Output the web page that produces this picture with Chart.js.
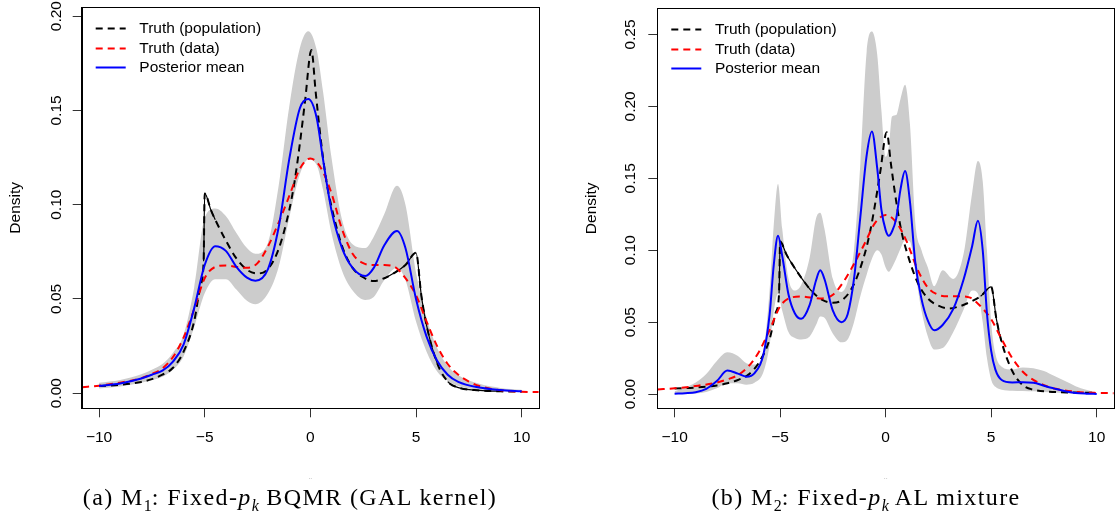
<!DOCTYPE html>
<html>
<head>
<meta charset="utf-8">
<script src="https://cdn.jsdelivr.net/npm/chart.js@4.4.1/dist/chart.umd.min.js"></script>
<style>
  html, body { margin: 0; padding: 0; background: #fff; }
  #wrap { position: relative; width: 1117px; height: 516px; overflow: hidden; }
  canvas { position: absolute; top: 0; }
  .cap { position: absolute; top: 482px; font-family: "Liberation Serif", "DejaVu Serif", serif;
         font-size: 24px; letter-spacing: 1.4px; white-space: nowrap; transform: translateX(-50%); line-height: 30px; }
  .cap sub { font-size: 16px; line-height: 0; letter-spacing: 0; }
</style>
</head>
<body>
<div id="wrap">
  <canvas id="chartA" width="560" height="516" style="left:0;width:560px;height:516px"></canvas>
  <canvas id="chartB" width="557" height="516" style="left:560px;width:557px;height:516px"></canvas>
  <div class="cap" style="left:290px">(a) M<sub>1</sub>: Fixed-<i>p<sub>k</sub></i> BQMR (GAL kernel)</div>
  <div class="cap" style="left:866px">(b) M<sub>2</sub>: Fixed-<i>p<sub>k</sub></i> AL mixture</div>
</div>
<script>
// tick positions
const xTicks = [-10, -5, 0, 5, 10];
const yTicksA = [0, 0.05, 0.10, 0.15, 0.20];
const yTicksB = [0, 0.05, 0.10, 0.15, 0.20, 0.25];

// true densities (same in both panels)
const xTruthPop = [-10, -9, -8, -7.5, -7, -6.5, -6, -5.5, -5.2, -5.05, -5, -4.7, -4.5, -4, -3.5, -3, -2.5, -2, -1.5, -1,
  -0.75, -0.5, -0.25, 0.05, 0.25, 0.5, 0.75, 1, 1.5, 2, 2.5, 3, 3.5, 4, 4.5, 5, 5.25, 5.5, 6, 6.5, 7, 8, 9, 10];
const truthPop = [0.0038, 0.0045, 0.0060, 0.0075, 0.0098, 0.0135, 0.022, 0.038, 0.057, 0.070, 0.106, 0.097, 0.092, 0.081, 0.0715, 0.0655, 0.0635, 0.066, 0.0765, 0.097,
  0.112, 0.132, 0.155, 0.182, 0.160, 0.134, 0.113, 0.099, 0.078, 0.0665, 0.0615, 0.0595, 0.061, 0.064, 0.068, 0.0745, 0.052, 0.036, 0.016, 0.0062, 0.003, 0.0015, 0.001, 0.0008];

const xTruthData = [-10.8, -10, -9, -8, -7.5, -7, -6.5, -6, -5.5, -5, -4.5, -4, -3.5, -3, -2.5, -2, -1.5, -1, -0.5, 0,
  0.5, 1, 1.5, 2, 2.5, 3, 3.5, 4, 4.5, 5, 5.5, 6, 6.5, 7, 7.5, 8, 9, 10, 10.8];
const truthData = [0.0032, 0.0040, 0.0056, 0.0080, 0.0102, 0.0132, 0.0192, 0.0295, 0.0445, 0.0610, 0.0670, 0.0678, 0.0670, 0.0665, 0.0690, 0.0780, 0.0905, 0.1045, 0.1190, 0.1245,
  0.1195, 0.1060, 0.0870, 0.0740, 0.0690, 0.0680, 0.0680, 0.0670, 0.0610, 0.0520, 0.0380, 0.0250, 0.0155, 0.0098, 0.0062, 0.0038, 0.0016, 0.0008, 0.0006];

// panel (a): M1 posterior mean and band
const xA = [-10, -9, -8, -7.5, -7, -6.5, -6, -5.5, -5, -4.5, -4, -3.5, -3, -2.6, -2, -1.5, -1, -0.5, -0.1, 0.3,
  0.6, 1, 1.5, 2, 2.6, 3, 3.5, 4.1, 4.5, 5, 5.5, 6, 6.5, 7, 8, 9, 10];
const meanA = [0.0039, 0.0052, 0.0078, 0.0098, 0.0120, 0.0168, 0.0258, 0.045, 0.068, 0.078, 0.0755, 0.067, 0.0613, 0.0597, 0.066, 0.088, 0.124, 0.151, 0.156, 0.146,
  0.124, 0.097, 0.077, 0.0665, 0.0622, 0.0665, 0.0785, 0.086, 0.077, 0.050, 0.030, 0.0172, 0.0098, 0.0060, 0.0030, 0.0017, 0.0010];
const upperA = [0.0055, 0.0070, 0.0100, 0.0125, 0.0155, 0.0215, 0.031, 0.056, 0.093, 0.098, 0.094, 0.085, 0.077, 0.074, 0.080, 0.110, 0.152, 0.183, 0.192, 0.182,
  0.160, 0.125, 0.092, 0.079, 0.077, 0.083, 0.095, 0.110, 0.100, 0.064, 0.040, 0.024, 0.0145, 0.0095, 0.0050, 0.0028, 0.0018];
const lowerA = [0.0025, 0.0035, 0.0055, 0.0070, 0.0088, 0.0125, 0.0195, 0.035, 0.053, 0.0605, 0.0605, 0.055, 0.049, 0.0472, 0.053, 0.067, 0.093, 0.116, 0.124, 0.121,
  0.108, 0.085, 0.065, 0.0545, 0.0495, 0.051, 0.060, 0.0665, 0.060, 0.038, 0.022, 0.0115, 0.0065, 0.0038, 0.0018, 0.0009, 0.0006];

// panel (b): M2 posterior mean and band
const xB = [-10, -9.5, -9, -8.5, -8, -7.5, -7, -6.6, -6.2, -5.8, -5.5, -5.3, -5.1, -4.9, -4.6, -4.3, -4, -3.6, -3.3, -3.1,
  -2.9, -2.5, -2.1, -1.8, -1.5, -1.2, -0.9, -0.65, -0.4, -0.2, 0, 0.15, 0.3, 0.5, 0.7, 0.92, 1.15, 1.4, 1.7, 2,
  2.3, 2.7, 3.2, 3.7, 4.1, 4.37, 4.6, 4.8, 5, 5.2, 5.5, 6, 6.5, 7, 7.5, 8, 8.5, 9, 9.5, 10];
const meanB = [0.0002, 0.0006, 0.0013, 0.0036, 0.0090, 0.0163, 0.0142, 0.0121, 0.0148, 0.0270, 0.055, 0.090, 0.110, 0.096, 0.069, 0.056, 0.0523, 0.062, 0.079, 0.086,
  0.080, 0.058, 0.050, 0.0555, 0.080, 0.123, 0.166, 0.1826, 0.157, 0.128, 0.114, 0.110, 0.113, 0.122, 0.142, 0.155, 0.134, 0.092, 0.066, 0.051,
  0.0443, 0.048, 0.059, 0.080, 0.103, 0.1205, 0.100, 0.056, 0.030, 0.017, 0.0098, 0.0081, 0.0082, 0.0079, 0.0058, 0.0038, 0.0020, 0.0008, 0.0003, 0.0001];
const upperB = [0.0020, 0.0045, 0.0080, 0.0140, 0.0230, 0.0290, 0.0265, 0.0215, 0.0205, 0.0290, 0.072, 0.118, 0.146, 0.115, 0.080, 0.072, 0.076, 0.095, 0.122, 0.126,
  0.115, 0.080, 0.071, 0.078, 0.100, 0.160, 0.238, 0.252, 0.236, 0.197, 0.165, 0.172, 0.193, 0.194, 0.205, 0.215, 0.188, 0.120, 0.100, 0.088,
  0.075, 0.086, 0.080, 0.098, 0.140, 0.162, 0.148, 0.100, 0.050, 0.028, 0.019, 0.017, 0.0185, 0.0180, 0.016, 0.0125, 0.0090, 0.0055, 0.0030, 0.0008];
const lowerB = [0.0000, 0.0001, 0.0004, 0.0015, 0.0040, 0.0075, 0.0075, 0.0065, 0.0080, 0.0150, 0.034, 0.058, 0.070, 0.058, 0.043, 0.039, 0.038, 0.040, 0.048, 0.054,
  0.053, 0.042, 0.036, 0.038, 0.050, 0.068, 0.083, 0.094, 0.100, 0.097, 0.088, 0.085, 0.088, 0.094, 0.101, 0.107, 0.106, 0.085, 0.058, 0.040,
  0.031, 0.032, 0.043, 0.059, 0.072, 0.070, 0.050, 0.025, 0.010, 0.005, 0.003, 0.0023, 0.0021, 0.0019, 0.0015, 0.0010, 0.0005, 0.0001, 0.0000, 0.0000];

const FONT = '"Liberation Sans", Arial, sans-serif';

function pts(xs, ys) {
  return xs.map((x, i) => ({ x: x, y: ys[i] }));
}

function inRanges(v, ranges) {
  return ranges.some(r => v >= r[0] && v < r[1]);
}

// R style box, rotated y tick labels and a borderless legend
const rStyle = {
  id: 'rStyle',
  afterDraw(chart, args, opts) {
    const ctx = chart.ctx;
    const a = chart.chartArea;
    const y = chart.scales.y;
    ctx.save();
    ctx.strokeStyle = '#000';
    ctx.lineWidth = 1;
    ctx.strokeRect(Math.round(a.left) + 0.5, Math.round(a.top) + 0.5,
      Math.round(a.right) - Math.round(a.left), Math.round(a.bottom) - Math.round(a.top));

    ctx.fillStyle = '#000';
    ctx.font = '15.5px ' + FONT;
    ctx.textAlign = 'center';
    ctx.textBaseline = 'middle';
    y.ticks.forEach(t => {
      ctx.save();
      ctx.translate(a.left - opts.labelOffset, y.getPixelForValue(t.value));
      ctx.rotate(-Math.PI / 2);
      ctx.fillText(t.value.toFixed(2), 0, 0);
      ctx.restore();
    });

    // legend
    ctx.textAlign = 'left';
    let row = 0;
    chart.data.datasets.forEach(ds => {
      if (!ds.label) return;
      const ly = Math.round(a.top + 21 + row * 19.2) + 0.5;
      ctx.beginPath();
      ctx.setLineDash(ds.borderDash || []);
      ctx.strokeStyle = ds.borderColor;
      ctx.lineWidth = 2;
      ctx.moveTo(a.left + 14, ly);
      ctx.lineTo(a.left + 44, ly);
      ctx.stroke();
      ctx.setLineDash([]);
      ctx.fillText(ds.label, a.left + 57.6, ly);
      row++;
    });
    ctx.restore();
  }
};

function makePanel(id, cfg) {
  const common = { pointRadius: 0, cubicInterpolationMode: 'monotone', fill: false };
  new Chart(document.getElementById(id), {
    type: 'line',
    data: {
      datasets: [
        Object.assign({ label: 'Truth (population)', data: pts(xTruthPop, truthPop), borderColor: '#000000',
          borderDash: [7, 5], borderWidth: 2, order: 3 }, common),
        Object.assign({ label: 'Truth (data)', data: pts(xTruthData, truthData), borderColor: '#ff0000',
          borderDash: [7, 5], borderWidth: 2, order: 2 }, common),
        Object.assign({ label: 'Posterior mean', data: pts(cfg.x, cfg.mean), borderColor: '#0000ff',
          borderWidth: 2, order: 1 }, common),
        Object.assign({ data: pts(xTruthPop, truthPop), borderColor: '#000000', borderWidth: 1.2, order: 4,
          segment: { borderColor: c => inRanges(c.p0.parsed.x, cfg.solid) ? '#000000' : 'rgba(0,0,0,0)' } }, common),
        Object.assign({}, common, { data: pts(cfg.x, cfg.upper), borderWidth: 0, borderColor: 'rgba(0,0,0,0)',
          backgroundColor: '#cccccc', fill: '+1', order: 6 }),
        Object.assign({ data: pts(cfg.x, cfg.lower), borderWidth: 0, borderColor: 'rgba(0,0,0,0)', order: 7 }, common)
      ]
    },
    options: {
      responsive: false,
      animation: false,
      devicePixelRatio: 1,
      layout: { padding: { left: 0, top: cfg.top, right: cfg.right, bottom: 0 } },
      plugins: {
        legend: { display: false },
        tooltip: { enabled: false },
        rStyle: { labelOffset: cfg.labelOffset }
      },
      scales: {
        x: {
          type: 'linear',
          min: -10.82, max: 10.82,
          afterBuildTicks: s => { s.ticks = xTicks.map(v => ({ value: v })); },
          afterFit: s => { s.height = 107.7; },
          grid: { display: true, drawOnChartArea: false, drawTicks: true, tickLength: 9, tickColor: '#333', lineWidth: 1 },
          border: { display: true, color: '#000', width: 1 },
          ticks: {
            color: '#000', padding: 11.4, maxRotation: 0, autoSkip: false,
            font: { family: FONT, size: 15.5 },
            callback: v => (v < 0 ? '\u2212' + Math.abs(v) : String(v))
          },
          title: { display: true, text: '..', color: '#aaaaaa', font: { family: FONT, size: 7 },
            padding: { top: 0, bottom: 34.8 } }
        },
        y: {
          type: 'linear',
          min: cfg.ymin, max: cfg.ymax,
          afterBuildTicks: s => { s.ticks = cfg.yTicks.map(v => ({ value: v })); },
          afterFit: s => { s.width = cfg.yWidth; },
          grid: { display: true, drawOnChartArea: false, drawTicks: true, tickLength: 9, tickColor: '#333', lineWidth: 1 },
          border: { display: true, color: '#000', width: 1 },
          ticks: { display: false },
          title: { display: true, text: 'Density', color: '#000', font: { family: FONT, size: 15.5 },
            padding: { top: cfg.titlePad, bottom: 0 } }
        }
      }
    },
    plugins: [rStyle]
  });
}

makePanel('chartA', {
  x: xA, mean: meanA, upper: upperA, lower: lowerA,
  yTicks: yTicksA, ymin: -0.008, ymax: 0.2047,
  top: 7.3, right: 21, yWidth: 81.7, labelOffset: 25, titlePad: 6.7,
  solid: [[-5.1, -4.6], [3.4, 5.6], [6.3, 9]]
});

makePanel('chartB', {
  x: xB, mean: meanB, upper: upperB, lower: lowerB,
  yTicks: yTicksB, ymin: -0.0099, ymax: 0.2682,
  top: 8.3, right: 3, yWidth: 97.3, labelOffset: 27, titlePad: 22.7,
  solid: [[-5.1, -3.6], [4.3, 5.3]]
});
</script>
</body>
</html>
